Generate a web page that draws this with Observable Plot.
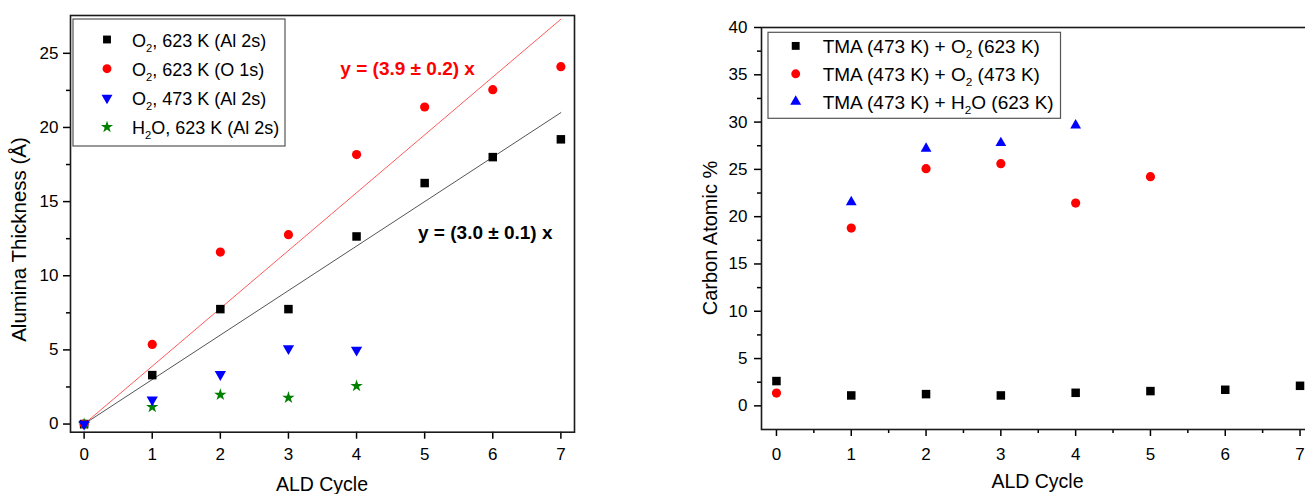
<!DOCTYPE html>
<html><head><meta charset="utf-8">
<script src="https://cdn.jsdelivr.net/npm/d3@7"></script>
<script src="https://cdn.jsdelivr.net/npm/@observablehq/plot@0.6"></script>
<style>
body{margin:0;background:#fff;}
#wrap{position:relative;width:1305px;height:494px;overflow:hidden;background:#fff;}
.panel{position:absolute;top:0;}
#overlay{position:absolute;left:0;top:0;}
</style></head><body><div id="wrap"></div>
<script>
// ---------- data ----------
const cycles = [0, 1, 2, 3, 4, 5, 6, 7];
// left panel: alumina thickness (Å)
const o2_623_Al2s = [0, 3.3, 7.75, 7.75, 12.65, 16.25, 18.0, 19.2];
const o2_623_O1s  = [0, 5.37, 11.6, 12.77, 18.17, 21.38, 22.55, 24.1];
const o2_473_Al2s = [0, 1.64, 3.35, 5.1, 5.0];
const h2o_623_Al2s = [0, 1.15, 1.98, 1.78, 2.56];
const fitSlopes = [3.0, 3.9];
const fitLabels = ["y = (3.0 ± 0.1) x", "y = (3.9 ± 0.2) x"];
const fitLabelX = [5.89, 4.75];
const fitLabelY = [12.86, 23.98];
const leftYTicks = [0, 5, 10, 15, 20, 25];
const leftYMinor = [2.5, 7.5, 12.5, 17.5, 22.5];
const leftLegend = ["O_2, 623 K (Al 2s)", "O_2, 623 K (O 1s)", "O_2, 473 K (Al 2s)", "H_2O, 623 K (Al 2s)"];
// right panel: carbon atomic %
const c_o2_623 = [2.62, 1.1, 1.24, 1.1, 1.38, 1.56, 1.7, 2.12];
const c_o2_473 = [1.35, 18.79, 25.07, 25.6, 21.44, 24.23];
const c_h2o_623 = [null, 21.55, 27.2, 27.8, 29.66];
const rightYTicks = [0, 5, 10, 15, 20, 25, 30, 35, 40];
const rightYMinor = [2.5, 7.5, 12.5, 17.5, 22.5, 27.5, 32.5, 37.5];
const rightXMinor = [0.5, 1.5, 2.5, 3.5, 4.5, 5.5, 6.5];
const rightLegend = ["TMA (473 K) + O_2 (623 K)", "TMA (473 K) + O_2 (473 K)", "TMA (473 K) + H_2O (623 K)"];

// ---------- helpers ----------
const FONT = '"Liberation Sans", Arial, Helvetica, sans-serif';
const BLACK = "#000000", RED = "#ff0000", BLUE = "#0000ff", GREEN = "#008000";
const triDown = {
  draw(ctx, size) {
    const y = -Math.sqrt(size / (Math.sqrt(3) * 3));
    ctx.moveTo(0, -y * 2);
    ctx.lineTo(-Math.sqrt(3) * y, y);
    ctx.lineTo(Math.sqrt(3) * y, y);
    ctx.closePath();
  }
};
function series(vals) {
  return vals.map((v, i) => ({x: cycles[i], y: v})).filter(d => d.y != null);
}
const fitData = fitSlopes.flatMap((m, k) => [{x: 0, y: 0, k}, {x: 7, y: m * 7, k}]);

const wrap = document.getElementById("wrap");

// ---------- left plot ----------
const left = Plot.plot({
  width: 600, height: 494,
  marginLeft: 70, marginRight: 26, marginTop: 15, marginBottom: 62.3,
  x: {domain: [-0.2, 7.2]},
  y: {domain: [-0.55, 27.55]},
  style: {fontFamily: FONT, fontSize: "17px", color: "#000", background: "transparent", overflow: "visible"},
  marks: [
    Plot.axisY({ticks: leftYTicks, tickSize: 7, tickPadding: 5, label: null, strokeWidth: 1.5, fontSize: 17}),
    Plot.axisY({ticks: leftYMinor, tickSize: 4, tickFormat: () => "", label: null, strokeWidth: 1.5}),
    Plot.axisX({ticks: cycles, tickSize: 7, tickPadding: 9, label: null, strokeWidth: 1.5, fontSize: 17}),
    Plot.line(fitData.filter(d => d.k === 0), {x: "x", y: "y", stroke: "#555", strokeWidth: 1}),
    Plot.line(fitData.filter(d => d.k === 1), {x: "x", y: "y", stroke: "#ff5a5a", strokeWidth: 1}),
    Plot.dot(series(o2_623_Al2s), {x: "x", y: "y", symbol: "square", r: 4.8, fill: BLACK}),
    Plot.dot(series(o2_623_O1s), {x: "x", y: "y", symbol: "circle", r: 4.6, fill: RED}),
    Plot.dot(series(h2o_623_Al2s), {x: "x", y: "y", symbol: "star", r: 3.9, fill: GREEN}),
    Plot.dot(series(o2_473_Al2s), {x: "x", y: "y", symbol: triDown, r: 4.2, fill: BLUE}),
    Plot.text([fitLabels[0]], {x: [fitLabelX[0]], y: [fitLabelY[0]], text: d => d, fill: BLACK, fontWeight: "bold", fontSize: 19}),
    Plot.text([fitLabels[1]], {x: [fitLabelX[1]], y: [fitLabelY[1]], text: d => d, fill: RED, fontWeight: "bold", fontSize: 19}),
    Plot.frame({stroke: "#1a1a1a", strokeWidth: 1.6})
  ]
});
left.classList.add("panel");
left.style.left = "0px";
wrap.appendChild(left);

// ---------- right plot ----------
const right = Plot.plot({
  width: 634.5, height: 494,
  marginLeft: 81, marginRight: 0, marginTop: 27, marginBottom: 65,
  x: {domain: [-0.2, 7.2]},
  y: {domain: [-2.5, 40]},
  style: {fontFamily: FONT, fontSize: "17px", color: "#000", background: "transparent", overflow: "visible"},
  marks: [
    Plot.axisY({ticks: rightYTicks, tickSize: 7, tickPadding: 7, label: null, strokeWidth: 1.5, fontSize: 17}),
    Plot.axisY({ticks: rightYMinor, tickSize: 4, tickFormat: () => "", label: null, strokeWidth: 1.5}),
    Plot.axisX({ticks: cycles, tickSize: 7, tickPadding: 11, label: null, strokeWidth: 1.5, fontSize: 17}),
    Plot.axisX({ticks: rightXMinor, tickSize: 4, tickFormat: () => "", label: null, strokeWidth: 1.5}),
    Plot.dot(series(c_o2_623), {x: "x", y: "y", symbol: "square", r: 4.8, fill: BLACK}),
    Plot.dot(series(c_o2_473), {x: "x", y: "y", symbol: "circle", r: 4.6, fill: RED}),
    Plot.dot(series(c_h2o_623), {x: "x", y: "y", symbol: "triangle", r: 4.0, fill: BLUE}),
    Plot.frame({stroke: "#1a1a1a", strokeWidth: 1.6})
  ]
});
right.classList.add("panel");
right.style.left = "680px";
wrap.appendChild(right);

// remove any empty tick-label texts left by the minor-tick axes
d3.select(wrap).selectAll("svg text").filter(function () { return this.textContent.trim() === ""; }).remove();

// ---------- overlay: legends and axis titles ----------
const svg = d3.select(wrap).append("svg")
  .attr("id", "overlay").attr("width", 1305).attr("height", 494)
  .style("font-family", FONT);

function richText(sel, str, subSize, subDy) {
  const parts = str.split(/_(.)/);
  let pending = 0;
  parts.forEach((p, i) => {
    if (p === "") return;
    if (i % 2 === 1) {
      sel.append("tspan").attr("font-size", subSize).attr("dy", subDy).text(p);
      pending = -subDy;
    } else {
      const t = sel.append("tspan").text(p);
      if (pending) { t.attr("dy", pending); pending = 0; }
    }
  });
}

function legend(box, labels, symbols, colors, sizes, fontSize) {
  const g = svg.append("g");
  g.append("rect").attr("x", box.x).attr("y", box.y).attr("width", box.w).attr("height", box.h)
    .attr("fill", "#fff").attr("stroke", "#555").attr("stroke-width", 1.2);
  labels.forEach((lab, i) => {
    const cy = box.y + box.first + i * box.step;
    g.append("path").attr("transform", `translate(${box.mx},${cy})`)
      .attr("d", d3.symbol(symbols[i], sizes[i])()).attr("fill", colors[i]);
    const t = g.append("text").attr("x", box.tx).attr("y", cy + 7).attr("font-size", fontSize).attr("fill", "#000");
    richText(t, lab, fontSize * 0.62, 5);
  });
}

legend({x: 73, y: 19, w: 212, h: 127, first: 20.5, step: 29.2, mx: 107, tx: 132},
  leftLegend, [d3.symbolSquare, d3.symbolCircle, triDown, d3.symbolStar],
  [BLACK, RED, BLUE, GREEN], [62, 62, 52, 46], 18);

legend({x: 768, y: 32.3, w: 292.5, h: 86, first: 13.6, step: 27.9, mx: 795.7, tx: 822.7},
  rightLegend, [d3.symbolSquare, d3.symbolCircle, d3.symbolTriangle],
  [BLACK, RED, BLUE], [62, 62, 52], 19);

// axis titles
svg.append("text").attr("transform", "translate(26,239.5) rotate(-90)").attr("text-anchor", "middle")
  .attr("font-size", 20.5).text("Alumina Thickness (Å)");
svg.append("text").attr("x", 322).attr("y", 490.5).attr("text-anchor", "middle")
  .attr("font-size", 19.5).text("ALD Cycle");
svg.append("text").attr("transform", "translate(717,238) rotate(-90)").attr("text-anchor", "middle")
  .attr("font-size", 20).text("Carbon Atomic %");
svg.append("text").attr("x", 1037.5).attr("y", 488).attr("text-anchor", "middle")
  .attr("font-size", 19.5).text("ALD Cycle");
</script></body></html>
